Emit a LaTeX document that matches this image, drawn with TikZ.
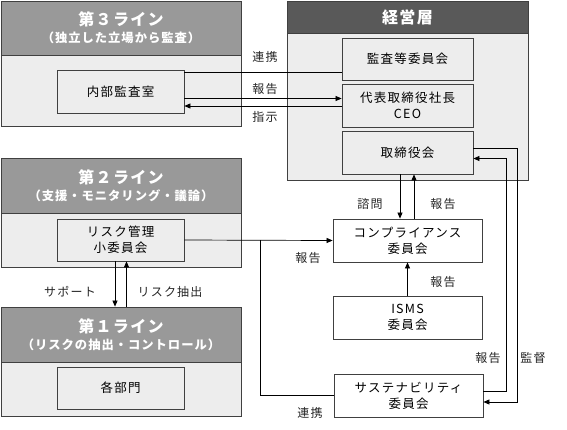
\documentclass[tikz,border=0pt]{standalone}
\usepackage{fontspec}
\setmainfont{Noto Sans CJK JP}
\newfontfamily\jpb[LetterSpace=8]{Noto Sans CJK JP}
\newfontfamily\jpr[LetterSpace=10]{Noto Sans CJK JP}
\usetikzlibrary{arrows.meta}
\definecolor{hdrgray}{HTML}{999999}
\definecolor{hdrdark}{HTML}{595959}
\definecolor{bodygray}{HTML}{EDEDED}
\definecolor{edge}{HTML}{404040}
\tikzset{
  panelhdr/.style={draw=edge, fill=hdrgray, text=white, align=center, inner sep=0pt, line width=0.8pt},
  panelbody/.style={draw=edge, fill=bodygray, inner sep=0pt, line width=0.8pt},
  gbox/.style={draw=edge, fill=bodygray, align=center, inner sep=0pt, line width=0.8pt, font=\jpr\fontsize{12.5}{16}\selectfont},
  wbox/.style={draw=edge, fill=white, align=center, inner sep=0pt, line width=0.8pt, font=\jpr\fontsize{12.5}{16}\selectfont},
  lbl/.style={font=\jpr\fontsize{12}{14}\selectfont, text=black!85, inner sep=0pt},
  conn/.style={draw=black, line width=0.7pt},
  arr/.style={conn, -{Triangle[length=6pt,width=5pt]}},
}
\newcommand{\hdrtext}[2]{{\jpb\bfseries\fontsize{16}{20}\selectfont #1}\\[3.5pt]{\jpb\bfseries\fontsize{12.3}{14}\selectfont #2}}
\begin{document}
\begin{tikzpicture}[x=1pt,y=-1pt]
\useasboundingbox (0,0) rectangle (567,429);
% third line
\node[panelbody, minimum width=240pt, minimum height=71pt] (b3) at (121,90.5) {};
\node[panelhdr, minimum width=240pt, minimum height=54pt] (h3) at (121,28) {\hdrtext{第３ライン}{（独立した立場から監査）}};
\node[gbox, minimum width=127pt, minimum height=43pt] (audit) at (120.5,91.5) {内部監査室};
% management
\node[panelbody, minimum width=241pt, minimum height=147pt] (bM) at (407.5,106.5) {};
\node[panelhdr, fill=hdrdark, minimum width=241pt, minimum height=32pt, font=\jpb\bfseries\fontsize{16}{20}\selectfont] (hM) at (407.5,17) {経営層};
\node[gbox, minimum width=131pt, minimum height=42pt] (kansa) at (407.5,59) {監査等委員会};
\node[gbox, minimum width=131pt, minimum height=43pt] (ceo) at (407.5,105.5) {代表取締役社長\\CEO};
\node[gbox, minimum width=131pt, minimum height=43pt] (board) at (407.5,152.5) {取締役会};
% second line
\node[panelbody, minimum width=240pt, minimum height=54pt] (b2) at (121,240) {};
\node[panelhdr, minimum width=240pt, minimum height=55pt] (h2) at (121,185.5) {\hdrtext{第２ライン}{（支援・モニタリング・議論）}};
\node[gbox, minimum width=127pt, minimum height=42pt] (risk) at (120.5,240) {リスク管理\\小委員会};
% first line
\node[panelbody, minimum width=240pt, minimum height=54pt] (b1) at (121,389) {};
\node[panelhdr, minimum width=240pt, minimum height=55pt] (h1) at (121,334.5) {\hdrtext{第１ライン}{（リスクの抽出・コントロール）}};
\node[gbox, minimum width=127pt, minimum height=42pt] (dept) at (120.5,388) {各部門};
% committees
\node[wbox, minimum width=149pt, minimum height=43pt] (comp) at (407.5,240.5) {コンプライアンス\\委員会};
\node[wbox, minimum width=149pt, minimum height=43pt] (isms) at (407.5,317.5) {ISMS\\委員会};
\node[wbox, minimum width=149pt, minimum height=43pt] (sust) at (408.5,395.5) {サステナビリティ\\委員会};
% connectors: audit <-> management
\coordinate (l1) at ([yshift=-3pt]audit.north east);
\coordinate (l2) at ([yshift=-7pt]audit.east);
\coordinate (l3) at ([yshift=-14.5pt]audit.east);
\draw[conn] (l1) -- (l1 -| kansa.west);
\draw[arr] (l2) -- (l2 -| ceo.west);
\draw[arr] (l3 -| ceo.west) -- (l3);
\node[lbl] (t1) at (265,57) {連携};
\node[lbl] (t2) at (265,89) {報告};
\node[lbl] (t3) at (265,116.5) {指示};
% board <-> compliance
\coordinate (c1) at ([xshift=-7.5pt]board.south);
\coordinate (c2) at ([xshift=6.5pt]board.south);
\draw[arr] (c1) -- (c1 |- comp.north);
\draw[arr] (c2 |- comp.north) -- (c2);
\node[lbl] (t4) at (370,204) {諮問};
\node[lbl] (t5) at (443,204) {報告};
% isms -> compliance
\draw[arr] (isms.north) -- (comp.south);
\node[lbl] (t6) at (443,282) {報告};
% risk -> compliance
\draw[arr] (risk.east) -- (comp.west);
\node[lbl] (t7) at (308,258) {報告};
\coordinate (j) at (260,240);
\draw[conn] (sust.west) -| (j);
\node[lbl] (t8) at (310,413) {連携};
% sustainability <-> board
\coordinate (s1) at ([yshift=4pt]sust.east);
\coordinate (s2) at ([yshift=-6.5pt]sust.east);
\coordinate (b1r) at ([yshift=4pt]board.east);
\coordinate (b2r) at ([yshift=-6pt]board.east);
\coordinate (vx1) at (506.7,0);
\coordinate (vx2) at (517.7,0);
\draw[arr] (s1) -- (s1 -| vx1) -- (b2r -| vx1) -- (b2r);
\draw[arr] (b1r) -- (b1r -| vx2) -- (s2 -| vx2) -- (s2);
\node[lbl] (t9) at (488,358) {報告};
\node[lbl] (t10) at (533,358) {監督};
% risk <-> first line
\coordinate (r1) at ([xshift=-5.5pt]risk.south);
\coordinate (r2) at ([xshift=6pt]risk.south);
\draw[arr] (r1) -- (r1 |- h1.north);
\draw[arr] (r2 |- h1.north) -- (r2);
\node[lbl] (t11) at (70,291.5) {サポート};
\node[lbl] (t12) at (170,291.5) {リスク抽出};
\end{tikzpicture}
\end{document}
